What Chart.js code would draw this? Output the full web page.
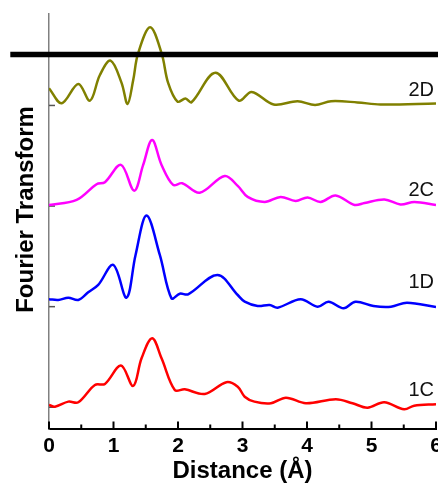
<!DOCTYPE html>
<html>
<head>
<meta charset="utf-8">
<script src="https://cdn.jsdelivr.net/npm/chart.js@4.4.1/dist/chart.umd.min.js"></script>
<style>
  html, body { margin: 0; padding: 0; background: #fff; }
  canvas { display: block; }
</style>
</head>
<body>
<canvas id="c" width="438" height="486"></canvas>
<script>
// ---- data ----
const seriesNames = ['2D', '2C', '1D', '1C'];
const seriesOffsets = [3, 2, 1, 0];
const seriesColors = ['#808000', '#ff00ff', '#0000ff', '#ff0000'];

const dist2D = [0, 0.197, 0.454, 0.635, 0.789, 0.955, 1.125, 1.218, 1.305, 1.382, 1.568, 1.745, 1.847, 1.992, 2.116, 2.209, 2.580, 2.941, 3.142, 3.483, 3.854, 4.125, 4.373, 4.783, 5.139, 6.0];
const ft2D   = [0.171, 0.022, 0.213, 0.048, 0.303, 0.445, 0.224, 0.015, 0.250, 0.519, 0.777, 0.519, 0.224, 0.038, 0.068, 0.032, 0.326, 0.048, 0.134, 0.010, 0.042, 0.005, 0.042, 0.030, 0.010, 0.020];

const dist2C = [0, 0.428, 0.738, 0.867, 1.115, 1.321, 1.46, 1.599, 1.745, 1.925, 2.064, 2.337, 2.724, 2.926, 3.08, 3.344, 3.591, 3.824, 4.009, 4.211, 4.443, 4.737, 4.892, 5.201, 5.449, 5.666, 6.0];
const ft2C   = [0.011, 0.061, 0.217, 0.237, 0.409, 0.153, 0.409, 0.657, 0.409, 0.210, 0.227, 0.133, 0.299, 0.200, 0.091, 0.041, 0.090, 0.051, 0.085, 0.041, 0.105, 0.011, 0.031, 0.066, 0.016, 0.041, 0.011];

const dist1D = [0, 0.144, 0.299, 0.454, 0.608, 0.763, 0.996, 1.202, 1.342, 1.512, 1.718, 1.899, 2.028, 2.157, 2.611, 2.926, 3.034, 3.235, 3.421, 3.545, 3.901, 4.164, 4.334, 4.567, 4.752, 5.031, 5.302, 5.550, 6.0];
const ft1D   = [0.074, 0.067, 0.089, 0.067, 0.143, 0.216, 0.415, 0.089, 0.514, 0.905, 0.514, 0.083, 0.129, 0.123, 0.315, 0.116, 0.050, 0.007, 0.017, -0.010, 0.074, 0.000, 0.050, -0.016, 0.049, 0.007, 0.000, 0.040, -0.003];

const dist1C = [0, 0.093, 0.299, 0.454, 0.712, 0.867, 1.115, 1.305, 1.435, 1.599, 1.745, 1.950, 2.105, 2.415, 2.750, 2.926, 3.034, 3.184, 3.441, 3.674, 3.983, 4.447, 4.706, 4.938, 5.197, 5.506, 5.661, 6.0];
const ft1C   = [0.023, 0.006, 0.056, 0.050, 0.222, 0.232, 0.414, 0.212, 0.487, 0.686, 0.487, 0.172, 0.179, 0.132, 0.249, 0.205, 0.105, 0.056, 0.040, 0.095, 0.040, 0.080, 0.040, -0.004, 0.050, -0.020, 0.016, 0.030];

const seriesDist = [dist2D, dist2C, dist1D, dist1C];
const seriesFT = [ft2D, ft2C, ft1D, ft1C];

const barDist = [-0.6, 6.05];
const barLevel = 3.507;

const xMin = 0, xMax = 6;
const yMin = -0.216, yMax = 3.909;
const yTickValues = [0, 1, 2, 3];

// ---- build datasets ----
const datasets = [];
datasets.push({
  label: 'bar',
  data: barDist.map(x => ({ x: x, y: barLevel })),
  borderColor: '#000',
  borderWidth: 5.5,
  pointRadius: 0,
  clip: false,
  tension: 0
});
seriesNames.forEach((name, i) => {
  datasets.push({
    label: name,
    data: seriesDist[i].map((x, j) => ({ x: x, y: seriesFT[i][j] + seriesOffsets[i] })),
    borderColor: seriesColors[i],
    borderWidth: 2.5,
    pointRadius: 0,
    tension: 0.35,
    fill: false
  });
});

const FONT = "'Liberation Sans', Arial, Helvetica, sans-serif";

const inwardTicks = {
  id: 'inwardTicks',
  beforeDatasetsDraw(chart) {
    const { ctx, scales: { x, y } } = chart;
    ctx.save();
    ctx.strokeStyle = '#000';
    ctx.lineWidth = 2;
    x.ticks.forEach(t => {
      const px = x.getPixelForValue(t.value);
      const len = Number.isInteger(t.value) ? 7.5 : 4.5;
      ctx.beginPath();
      ctx.moveTo(px, x.top);
      ctx.lineTo(px, x.top - len);
      ctx.stroke();
    });
    ctx.strokeStyle = '#555';
    ctx.lineWidth = 1.5;
    yTickValues.forEach(v => {
      const py = y.getPixelForValue(v);
      ctx.beginPath();
      ctx.moveTo(y.right, py);
      ctx.lineTo(y.right + 6, py);
      ctx.stroke();
    });
    ctx.restore();
  }
};

const curveLabels = {
  id: 'curveLabels',
  afterDatasetsDraw(chart, args, opts) {
    const { ctx, scales: { x, y } } = chart;
    ctx.save();
    ctx.font = '20px ' + FONT;
    ctx.fillStyle = '#111';
    ctx.textAlign = 'right';
    ctx.textBaseline = 'middle';
    seriesNames.forEach((name, i) => {
      const py = y.getPixelForValue(seriesOffsets[i] + opts.lift[i]);
      ctx.fillText(name, x.getPixelForValue(xMax) - 2, py);
    });
    ctx.restore();
  }
};

new Chart(document.getElementById('c'), {
  type: 'line',
  data: { datasets: datasets },
  options: {
    responsive: false,
    animation: false,
    devicePixelRatio: 1,
    layout: { padding: { top: 14, right: 2, bottom: 0, left: 0 } },
    plugins: {
      legend: { display: false },
      tooltip: { enabled: false },
      curveLabels: { lift: [0.152, 0.158, 0.236, 0.167] }
    },
    scales: {
      x: {
        type: 'linear',
        min: xMin, max: xMax,
        grid: { display: false, drawTicks: false },
        border: { display: true, color: '#000', width: 2 },
        ticks: {
          stepSize: 0.5,
          autoSkip: false,
          maxRotation: 0,
          padding: 5,
          color: '#000',
          font: { family: FONT, size: 21, weight: 'bold' },
          callback: v => Number.isInteger(v) ? String(v) : ''
        },
        title: {
          display: true,
          text: 'Distance (Å)',
          color: '#000',
          font: { family: FONT, size: 24, weight: 'bold', lineHeight: 1.2 },
          padding: { top: 0, bottom: 0 }
        },
        afterFit(s) { s.height = 57; s.paddingLeft = 0; s.paddingRight = 0; }
      },
      y: {
        type: 'linear',
        min: yMin, max: yMax,
        grid: { display: false, drawTicks: false },
        border: { display: true, color: '#808080', width: 1.5 },
        ticks: { display: false, stepSize: 1 },
        title: {
          display: true,
          text: '\u2002\u2002Fourier Transform',
          color: '#000',
          font: { family: FONT, size: 24, weight: 'bold', lineHeight: 1.2 },
          padding: { top: 12, bottom: 0 }
        },
        afterFit(s) { s.width = 49; }
      }
    }
  },
  plugins: [inwardTicks, curveLabels]
});
</script>
</body>
</html>
